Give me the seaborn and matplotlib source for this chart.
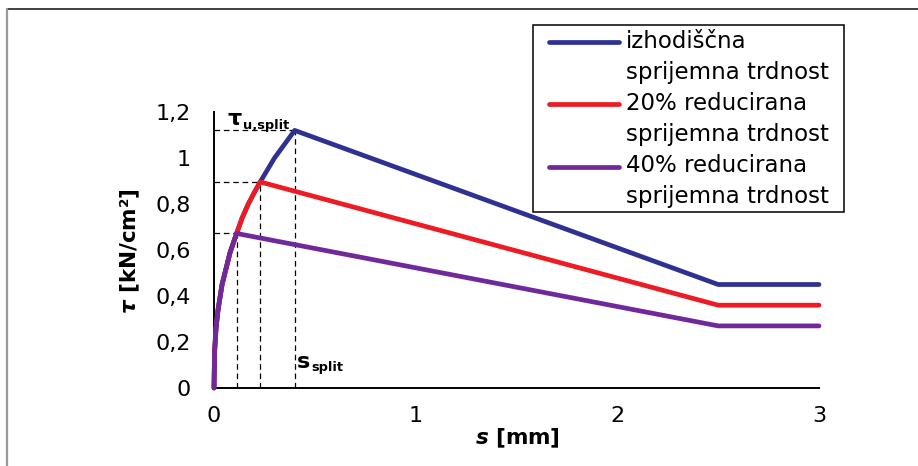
import numpy as np
import pandas as pd
import matplotlib
matplotlib.use("Agg")
import matplotlib.pyplot as plt
from matplotlib.lines import Line2D
from matplotlib.patches import Rectangle
import seaborn as sns

# ---------------- data ----------------
labels = ["izhodiščna\nsprijemna trdnost",
          "20% reducirana\nsprijemna trdnost",
          "40% reducirana\nsprijemna trdnost"]
colors = ["#2e3192", "#ed1c24", "#70299a"]

s_base = [0, 0.003, 0.01, 0.02, 0.04, 0.06, 0.08, 0.112, 0.14, 0.17, 0.2,
          0.229, 0.3, 0.4, 2.5, 3.0]
tau_base = [0, 0.16, 0.26, 0.34, 0.45, 0.52, 0.59, 0.672, 0.74, 0.80, 0.85,
            0.896, 1.00, 1.12, 0.45, 0.45]

s_red = [0, 0.003, 0.01, 0.02, 0.04, 0.06, 0.08, 0.112, 0.14, 0.17, 0.2,
         0.229, 2.5, 3.0]
tau_red = [0, 0.16, 0.26, 0.34, 0.45, 0.52, 0.59, 0.672, 0.74, 0.80, 0.85,
           0.896, 0.36, 0.36]

s_purple = [0, 0.003, 0.01, 0.02, 0.04, 0.06, 0.08, 0.112, 2.5, 3.0]
tau_purple = [0, 0.16, 0.26, 0.34, 0.45, 0.52, 0.59, 0.672, 0.27, 0.27]

peak_s = [0.4, 0.229, 0.112]
peak_tau = [1.12, 0.896, 0.672]

xticks = [0, 1, 2, 3]
xtick_labels = ["0", "1", "2", "3"]
yticks = [0, 0.2, 0.4, 0.6, 0.8, 1.0, 1.2]
ytick_labels = ["0", "0,2", "0,4", "0,6", "0,8", "1", "1,2"]

df = pd.concat([
    pd.DataFrame({"s": s_base, "tau": tau_base, "serija": labels[0]}),
    pd.DataFrame({"s": s_red, "tau": tau_red, "serija": labels[1]}),
    pd.DataFrame({"s": s_purple, "tau": tau_purple, "serija": labels[2]}),
], ignore_index=True)

# ---------------- style ----------------
sns.set_style("white")
plt.rcParams["font.family"] = ["DejaVu Sans"]
plt.rcParams["text.color"] = "black"
plt.rcParams["axes.labelcolor"] = "black"
plt.rcParams["xtick.color"] = "black"
plt.rcParams["ytick.color"] = "black"
plt.rcParams["mathtext.fontset"] = "custom"
plt.rcParams["mathtext.it"] = "DejaVu Sans:italic:bold"
plt.rcParams["mathtext.bf"] = "DejaVu Sans:bold"
plt.rcParams["mathtext.rm"] = "DejaVu Sans:bold"

W, H = 918, 466
fig = plt.figure(figsize=(W / 100, H / 100), dpi=100)
ax = fig.add_axes([214 / W, 1 - 388 / H, (819 - 214) / W, (388 - 112) / H])

# dashed guide lines
for sp, tp in zip(peak_s, peak_tau):
    ax.plot([0, sp], [tp, tp], color="black", lw=0.9, ls=(0, (4.5, 3)), zorder=1)
    ax.plot([sp, sp], [0, tp], color="black", lw=0.9, ls=(0, (4.5, 3)), zorder=1)

sns.lineplot(data=df, x="s", y="tau", hue="serija", palette=colors,
             hue_order=labels, sort=False, estimator=None, linewidth=3.4,
             solid_capstyle="round", solid_joinstyle="round", clip_on=False,
             ax=ax, zorder=3)

ax.set_xlim(0, 3)
ax.set_ylim(0, 1.2)
ax.set_xticks(xticks)
ax.set_xticklabels(xtick_labels)
ax.set_yticks(yticks)
ax.set_yticklabels(ytick_labels)
ax.set_xlabel("")
ax.set_ylabel("")
for side in ["top", "right"]:
    ax.spines[side].set_visible(False)
for side in ["left", "bottom"]:
    ax.spines[side].set_color("black")
    ax.spines[side].set_linewidth(1.4)
ax.tick_params(axis="both", direction="in", length=5, width=1.3, colors="black",
               labelsize=16)
ax.tick_params(axis="y", pad=17)
ax.tick_params(axis="x", pad=13)
ax.set_facecolor("white")

# axis labels
fig.text(130 / W, 1 - 251 / H, r"$\tau$ [kN/cm²]", rotation=90, ha="center",
         va="center", fontsize=15.5, fontweight="bold", color="black")
fig.text(517 / W, 1 - 438 / H, r"$s$ [mm]", ha="center", va="center",
         fontsize=15.5, fontweight="bold", color="black")

# annotations
fig.text(227 / W, 1 - 125 / H, "τ", ha="left", va="baseline", fontsize=16,
         fontweight="bold", color="black")
fig.text(242.5 / W, 1 - 129.5 / H, "u,split", ha="left", va="baseline",
         fontsize=9.3, fontweight="bold", color="black")
fig.text(297 / W, 1 - 368 / H, "s", ha="left", va="baseline", fontsize=16,
         fontweight="bold", color="black")
fig.text(311.5 / W, 1 - 371 / H, "split", ha="left", va="baseline",
         fontsize=9.3, fontweight="bold", color="black")

# legend
handles, labs = ax.get_legend_handles_labels()
if ax.get_legend() is not None:
    ax.get_legend().remove()
leg = ax.legend(handles, labs, loc="upper left",
                bbox_to_anchor=(549 / W, 1 - 30 / H),
                bbox_transform=fig.transFigure, frameon=False, fontsize=16.5,
                handlelength=3.05, handletextpad=0.3, labelspacing=0.35,
                borderpad=0, borderaxespad=0)
for t in leg.get_texts():
    t.set_linespacing(1.45)
    t.set_color("black")
for ln in leg.get_lines():
    ln.set_linewidth(3.4)
    ln.set_solid_capstyle("round")
    y = np.asarray(ln.get_ydata(), dtype=float)
    ln.set_ydata(y + 11.3)

fig.add_artist(Rectangle((533 / W, 1 - 212 / H), (844 - 533) / W, (212 - 25) / H,
                         transform=fig.transFigure, fill=False,
                         edgecolor="black", lw=1.1))

# outer frame fragments
fig.add_artist(Line2D([7 / W, 1], [1 - 9 / H, 1 - 9 / H], transform=fig.transFigure,
                      color="#222222", lw=1.2))
fig.add_artist(Line2D([6.5 / W, 6.5 / W], [0, 1 - 9 / H], transform=fig.transFigure,
                      color="#9a9a9a", lw=1.6))

fig.savefig("out.png", dpi=100, facecolor="white")
